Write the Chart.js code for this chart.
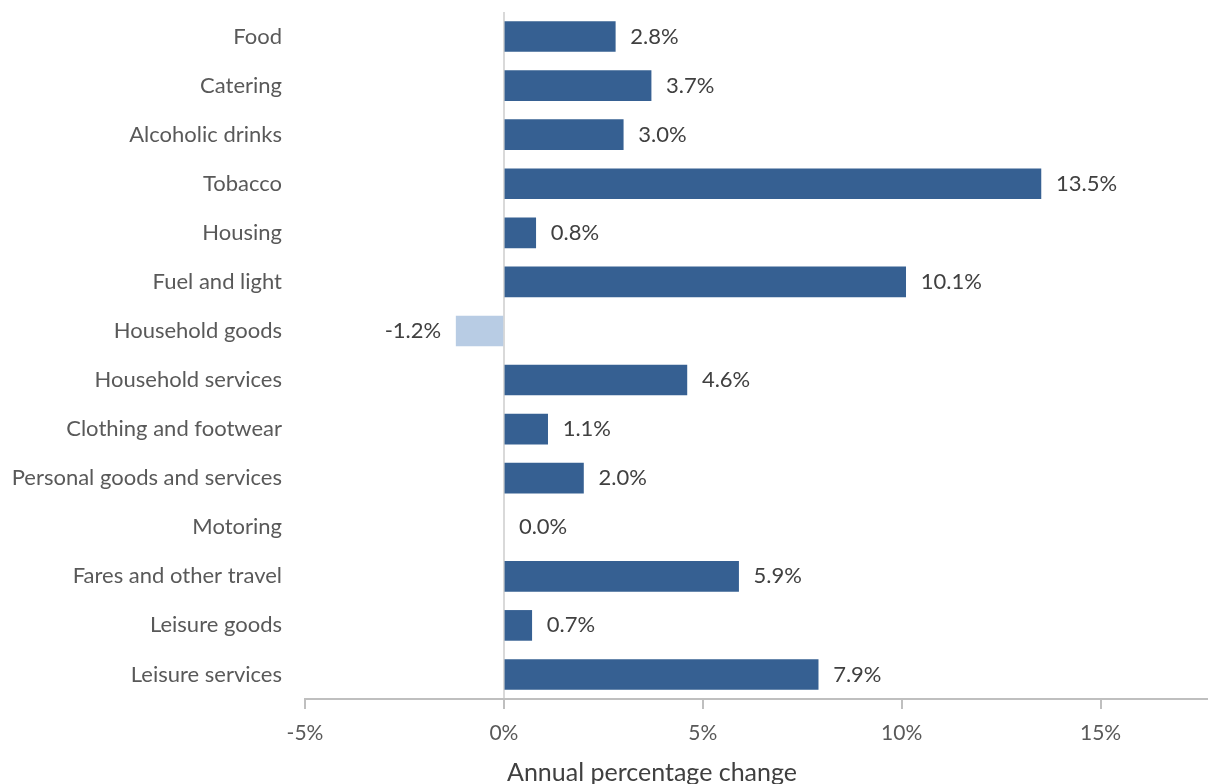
<!DOCTYPE html>
<html>
<head>
<meta charset="utf-8">
<script src="https://cdn.jsdelivr.net/npm/chart.js@4"></script>
<style>
  body { margin: 0; background: #ffffff; }
  #wrap { width: 1208px; height: 784px; }
</style>
</head>
<body>
<div id="wrap"><canvas id="myChart" width="1208" height="784"></canvas></div>
<script>
// categories and annual % change
var categories = ['Food', 'Catering', 'Alcoholic drinks', 'Tobacco', 'Housing', 'Fuel and light',
    'Household goods', 'Household services', 'Clothing and footwear', 'Personal goods and services',
    'Motoring', 'Fares and other travel', 'Leisure goods', 'Leisure services'];
var changes = [2.8, 3.7, 3.0, 13.5, 0.8, 10.1, -1.2, 4.6, 1.1, 2.0, 0.0, 5.9, 0.7, 7.9];
var xTicks = [-5, 0, 5, 10, 15];
var axisTitle = 'Annual percentage change';

var FONT = 'Lato';

// negative bars pale, zero bars not drawn at all
function barColor(v) {
    if (v === 0) return 'rgba(0,0,0,0)';
    return v < 0 ? '#b8cce4' : '#366092';
}

// value labels next to each bar end
const valueLabels = {
    id: 'valueLabels',
    afterDatasetsDraw(chart) {
        const ctx = chart.ctx;
        const meta = chart.getDatasetMeta(0);
        ctx.save();
        ctx.font = '22px ' + FONT;
        ctx.fillStyle = '#404040';
        ctx.textBaseline = 'middle';
        meta.data.forEach((bar, i) => {
            const v = changes[i];
            const txt = v.toFixed(1) + '%';
            if (v < 0) {
                ctx.textAlign = 'right';
                ctx.fillText(txt, bar.x - 15, bar.y);
            } else {
                ctx.textAlign = 'left';
                ctx.fillText(txt, bar.x + 15, bar.y);
            }
        });
        ctx.restore();
    }
};

// axis title sits below the tick labels
const axisTitlePlugin = {
    id: 'axisTitlePlugin',
    afterDraw(chart) {
        const ctx = chart.ctx;
        ctx.save();
        ctx.font = '25px ' + FONT;
        ctx.fillStyle = '#404040';
        ctx.textAlign = 'center';
        ctx.textBaseline = 'middle';
        ctx.fillText(axisTitle, 652, 773);
        ctx.restore();
    }
};

var ctx = document.getElementById('myChart').getContext('2d');
var chart = new Chart(ctx, {
    type: 'bar',
    data: {
        labels: categories,
        datasets: [{
            data: changes,
            backgroundColor: changes.map(barColor),
            barThickness: 30
        }]
    },
    options: {
        indexAxis: 'y',
        responsive: false,
        animation: false,
        layout: { padding: { top: 12, right: 0, bottom: 0, left: 0 } },
        plugins: {
            legend: { display: false },
            tooltip: { enabled: false }
        },
        scales: {
            x: {
                min: -5,
                max: 17.7,
                afterBuildTicks: (scale) => {
                    scale.ticks = xTicks.map(v => ({ value: v }));
                },
                afterFit: (scale) => { scale.height = 85; },
                grid: {
                    color: (c) => c.tick && c.tick.value === 0 ? '#d9d9d9' : 'rgba(0,0,0,0)',
                    lineWidth: 2,
                    drawTicks: true,
                    tickLength: 10,
                    tickColor: '#bfbfbf',
                    tickWidth: 2
                },
                border: { display: true, color: '#bfbfbf', width: 2 },
                ticks: {
                    padding: 12,
                    color: '#595959',
                    font: { family: FONT, size: 21 },
                    callback: (v) => v + '%'
                }
            },
            y: {
                afterFit: (scale) => {
                    scale.width = 305;
                    scale.paddingTop = 0;
                    scale.paddingBottom = 0;
                },
                grid: { display: false },
                border: { display: false },
                ticks: {
                    padding: 15,
                    color: '#595959',
                    font: { family: FONT, size: 22 }
                }
            }
        }
    },
    plugins: [valueLabels, axisTitlePlugin]
});
</script>
</body>
</html>
